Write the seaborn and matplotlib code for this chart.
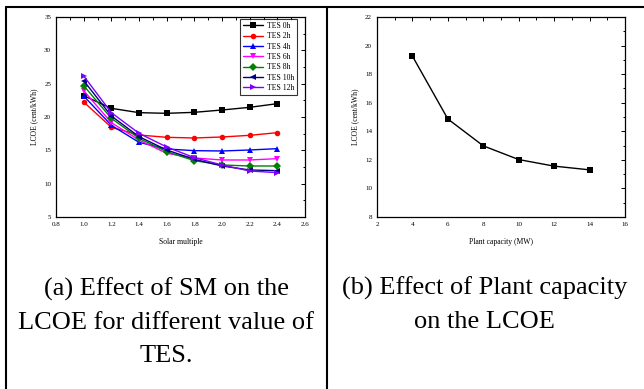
import pandas as pd
import matplotlib.pyplot as plt
import seaborn as sns
from matplotlib.lines import Line2D
from matplotlib.ticker import MultipleLocator, AutoMinorLocator

# Datos
solar_multiple = [1.0, 1.2, 1.4, 1.6, 1.8, 2.0, 2.2, 2.4]
tes_labels = ['TES 0h', 'TES 2h', 'TES 4h', 'TES 6h', 'TES 8h', 'TES 10h', 'TES 12h']
lcoe_tes_0 = [23.2, 21.3, 20.65, 20.55, 20.7, 21.05, 21.45, 22.0]
lcoe_tes_2 = [22.25, 18.45, 17.3, 16.95, 16.85, 17.0, 17.25, 17.65]
lcoe_tes_4 = [23.15, 18.75, 16.2, 15.2, 14.95, 14.9, 15.05, 15.25]
lcoe_tes_6 = [23.95, 19.15, 16.55, 14.55, 13.85, 13.55, 13.55, 13.75]
lcoe_tes_8 = [24.7, 19.8, 16.8, 14.8, 13.45, 12.8, 12.65, 12.65]
lcoe_tes_10 = [25.45, 20.15, 17.05, 15.05, 13.65, 12.65, 12.05, 11.95]
lcoe_tes_12 = [26.15, 20.65, 17.55, 15.5, 13.9, 12.8, 11.9, 11.65]

plant_capacity = [4, 6, 8, 10, 12, 14]
lcoe_capacity = [19.26, 14.86, 12.98, 12.02, 11.56, 11.3]

series = [lcoe_tes_0, lcoe_tes_2, lcoe_tes_4, lcoe_tes_6, lcoe_tes_8, lcoe_tes_10, lcoe_tes_12]
df_sm = pd.DataFrame({
    'SM': solar_multiple * len(tes_labels),
    'LCOE': [v for s in series for v in s],
    'TES': [lab for lab in tes_labels for _ in solar_multiple],
})
df_cap = pd.DataFrame({'Capacidad': plant_capacity, 'LCOE': lcoe_capacity})

colores = ['#000000', '#ff0000', '#0000ff', '#ff00ff', '#008000', '#000080', '#8000ff']
marcadores = ['s', 'o', '^', 'v', 'D', '<', '>']

sns.set_style('white')
plt.rcParams['font.family'] = ['Liberation Serif', 'DejaVu Serif']
plt.rcParams['text.color'] = 'black'
plt.rcParams['axes.labelcolor'] = 'black'
plt.rcParams['xtick.color'] = 'black'
plt.rcParams['ytick.color'] = 'black'

fig = plt.figure(figsize=(6.44, 3.89), dpi=100)
fig.patch.set_facecolor('white')

ax1 = fig.add_axes([0.087, 0.4422, 0.3866, 0.5141])
ax2 = fig.add_axes([0.5854, 0.4422, 0.3851, 0.5141])

sns.lineplot(data=df_sm, x='SM', y='LCOE', hue='TES', style='TES',
             palette=colores, markers=marcadores, dashes=False,
             linewidth=1.0, markersize=4, markeredgewidth=0, ax=ax1)
sns.lineplot(data=df_cap, x='Capacidad', y='LCOE', color='black', marker='s',
             linewidth=1.0, markersize=4.5, markeredgewidth=0, ax=ax2)

ax1.set_xlim(0.8, 2.6)
ax1.set_ylim(5, 35)
ax1.xaxis.set_major_locator(MultipleLocator(0.2))
ax1.yaxis.set_major_locator(MultipleLocator(5))
ax1.set_xlabel('Solar multiple', fontsize=5.5, labelpad=8)
ax1.set_ylabel('LCOE (cent/kWh)', fontsize=5.5, labelpad=4)

ax2.set_xlim(2, 16)
ax2.set_ylim(8, 22)
ax2.xaxis.set_major_locator(MultipleLocator(2))
ax2.yaxis.set_major_locator(MultipleLocator(2))
ax2.set_xlabel('Plant capacity (MW)', fontsize=5.5, labelpad=8)
ax2.set_ylabel('LCOE (cent/kWh)', fontsize=5.5, labelpad=4)

for ax in (ax1, ax2):
    ax.xaxis.set_minor_locator(AutoMinorLocator(2))
    ax.yaxis.set_minor_locator(AutoMinorLocator(2))
    ax.tick_params(which='both', direction='in', top=True, right=True,
                   labelsize=5, color='black', width=0.7)
    ax.tick_params(which='major', length=3)
    ax.tick_params(which='minor', length=1.8)
    for s in ax.spines.values():
        s.set_color('black')
        s.set_linewidth(0.9)

leg = ax1.legend(loc='upper right', bbox_to_anchor=(0.968, 0.99), fontsize=5.6,
                 frameon=True, fancybox=False, edgecolor='black', handlelength=2.6,
                 labelspacing=0.3, borderpad=0.4, handletextpad=0.4, borderaxespad=0)
leg.get_frame().set_linewidth(0.8)

# Pies de figura
fig.text(0.258, 0.172, '(a) Effect of SM on the\nLCOE for different value of\nTES.',
         ha='center', va='center', fontsize=19, linespacing=1.64)
fig.text(0.753, 0.216, '(b) Effect of Plant capacity\non the LCOE',
         ha='center', va='center', fontsize=19, linespacing=1.64)

# Marco de la tabla
fig.add_artist(Line2D([6 / 644, 1], [1 - 7 / 389] * 2, color='black', linewidth=1.5, transform=fig.transFigure))
fig.add_artist(Line2D([6 / 644] * 2, [0, 1 - 7 / 389], color='black', linewidth=1.5, transform=fig.transFigure))
fig.add_artist(Line2D([327 / 644] * 2, [0, 1 - 7 / 389], color='black', linewidth=1.5, transform=fig.transFigure))

fig.savefig('out.png', dpi=100)
